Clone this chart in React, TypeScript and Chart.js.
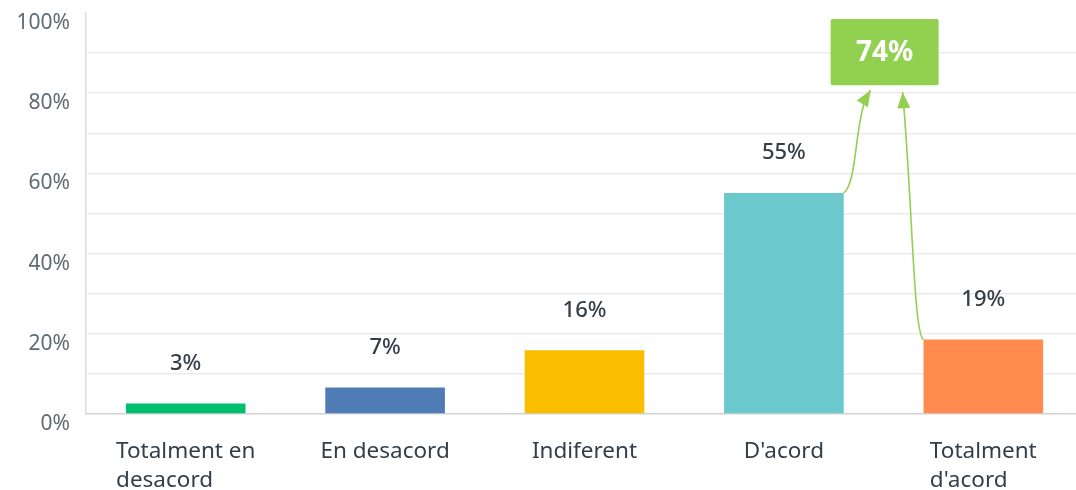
import React, { useEffect, useRef } from 'react';
import { Chart, registerables } from 'chart.js';

Chart.register(...registerables);

const categories: string[][] = [
  ['Totalment en', 'desacord'],
  ['En desacord'],
  ['Indiferent'],
  ["D'acord"],
  ['Totalment', "d'acord"],
];
const values = [2.6, 6.6, 15.9, 55.1, 18.6];
const valueLabels = ['3%', '7%', '16%', '55%', '19%'];
const barColors = ['#00bf6f', '#507cb6', '#f9be00', '#6bc8cd', '#ff8b4f'];
const yLabelTicks = [0, 20, 40, 60, 80, 100];
const totalLabel = '74%';
const totalFrom = [3, 4];
const boxRange = [82, 98.5];

const FONT = '"Noto Sans", sans-serif';
const GREEN = '#92d050';

function arrowHead(ctx: CanvasRenderingContext2D, tipX: number, tipY: number, fromX: number, fromY: number) {
  const ang = Math.atan2(tipY - fromY, tipX - fromX);
  const len = 16;
  const half = 6.5;
  const bx = tipX - len * Math.cos(ang);
  const by = tipY - len * Math.sin(ang);
  ctx.beginPath();
  ctx.moveTo(tipX, tipY);
  ctx.lineTo(bx + half * Math.sin(ang), by - half * Math.cos(ang));
  ctx.lineTo(bx - half * Math.sin(ang), by + half * Math.cos(ang));
  ctx.closePath();
  ctx.fill();
}

const overlayPlugin = {
  id: 'overlay',
  afterDatasetsDraw(chart: any) {
    const ctx: CanvasRenderingContext2D = chart.ctx;
    const meta = chart.getDatasetMeta(0);
    const yScale = chart.scales.y;
    const area = chart.chartArea;
    ctx.save();
    // value labels
    ctx.font = `500 22px ${FONT}`;
    ctx.fillStyle = '#333e48';
    ctx.textAlign = 'center';
    ctx.textBaseline = 'middle';
    meta.data.forEach((bar: any, i: number) => {
      ctx.fillText(valueLabels[i], bar.x, bar.y - 40);
    });
    // x labels (left aligned lines, centered block)
    ctx.font = `22.5px ${FONT}`;
    ctx.fillStyle = '#333e48';
    ctx.textAlign = 'left';
    meta.data.forEach((bar: any, i: number) => {
      const lines = categories[i];
      const w = Math.max(...lines.map((l) => ctx.measureText(l).width));
      const left = bar.x - w / 2;
      lines.forEach((l, j) => {
        ctx.fillText(l, left, area.bottom + 38 + j * 29);
      });
    });
    // total box
    const b1 = meta.data[totalFrom[0]];
    const b2 = meta.data[totalFrom[1]];
    const cx = (b1.x + b2.x) / 2 + 1;
    const top = yScale.getPixelForValue(boxRange[1]);
    const bottom = yScale.getPixelForValue(boxRange[0]);
    const bw = 108;
    ctx.fillStyle = GREEN;
    ctx.beginPath();
    ctx.roundRect(cx - bw / 2, top, bw, bottom - top, 2);
    ctx.fill();
    ctx.fillStyle = '#ffffff';
    ctx.font = `bold 28px ${FONT}`;
    ctx.textAlign = 'center';
    ctx.fillText(totalLabel, cx, (top + bottom) / 2 + 1);
    // arrows
    ctx.strokeStyle = GREEN;
    ctx.fillStyle = GREEN;
    ctx.lineWidth = 1.6;
    // arrow 1
    const s1x = b1.x + b1.width / 2;
    const s1y = b1.y;
    const t1x = cx - 14;
    const t1y = bottom + 5;
    const c1b = { x: t1x - 12, y: t1y + 20 };
    ctx.beginPath();
    ctx.moveTo(s1x, s1y);
    ctx.bezierCurveTo(s1x + 13, s1y - 10, s1x + 11, t1y + 40, c1b.x + 6, c1b.y - 8);
    ctx.lineTo(t1x, t1y);
    ctx.stroke();
    arrowHead(ctx, t1x, t1y, c1b.x, c1b.y);
    // arrow 2
    const s2x = b2.x - b2.width / 2;
    const s2y = b2.y;
    const t2x = cx + 18;
    const t2y = bottom + 7;
    ctx.beginPath();
    ctx.moveTo(s2x, s2y);
    ctx.bezierCurveTo(s2x - 10, s2y - 5, s2x - 11, t2y + 110, t2x, t2y);
    ctx.stroke();
    arrowHead(ctx, t2x, t2y, t2x + 1.5, t2y + 20);
    ctx.restore();
  },
};

export default function App() {
  const ref = useRef<HTMLCanvasElement | null>(null);
  useEffect(() => {
    document.body.style.margin = '0';
    document.body.style.overflow = 'hidden';
    const chart = new Chart(ref.current as HTMLCanvasElement, {
      type: 'bar',
      data: {
        labels: categories.map((c) => c.join(' ')),
        datasets: [
          {
            data: values,
            backgroundColor: barColors,
            borderWidth: 0,
            barPercentage: 0.6,
            categoryPercentage: 1,
          },
        ],
      },
      options: {
        animation: false,
        responsive: false,
        layout: { padding: { left: 0, right: 17, top: 13, bottom: 0 } },
        plugins: { legend: { display: false }, tooltip: { enabled: false }, title: { display: false } },
        scales: {
          x: {
            grid: { display: false },
            border: { display: true, color: '#d3d3d3', width: 1.5 },
            ticks: { display: false },
            afterFit: (s: any) => {
              s.height = 76;
              s.paddingLeft = 0;
              s.paddingRight = 0;
            },
          },
          y: {
            min: 0,
            max: 100,
            ticks: {
              stepSize: 10,
              padding: 16,
              labelOffset: 10,
              color: '#5f6b73',
              font: { family: FONT, size: 21 },
              callback: (v: any) => (yLabelTicks.includes(Number(v)) ? `${v}%` : ''),
            },
            grid: {
              drawTicks: false,
              lineWidth: 1.5,
              color: (c: any) => (c.tick && (c.tick.value === 100 || c.tick.value === 0) ? 'rgba(0,0,0,0)' : '#ececec'),
            },
            border: { display: true, color: '#dcdcdc', width: 1.5 },
            afterFit: (s: any) => {
              s.width = 86;
              s.paddingTop = 0;
              s.paddingBottom = 0;
            },
          },
        },
      },
      plugins: [overlayPlugin],
    });
    return () => chart.destroy();
  }, []);
  return (
    <div style={{ position: 'fixed', left: 0, top: 0, width: 1076, height: 490, overflow: 'hidden', background: '#fff' }}>
      <canvas ref={ref} width={1100} height={490} style={{ display: 'block' }} />
    </div>
  );
}
